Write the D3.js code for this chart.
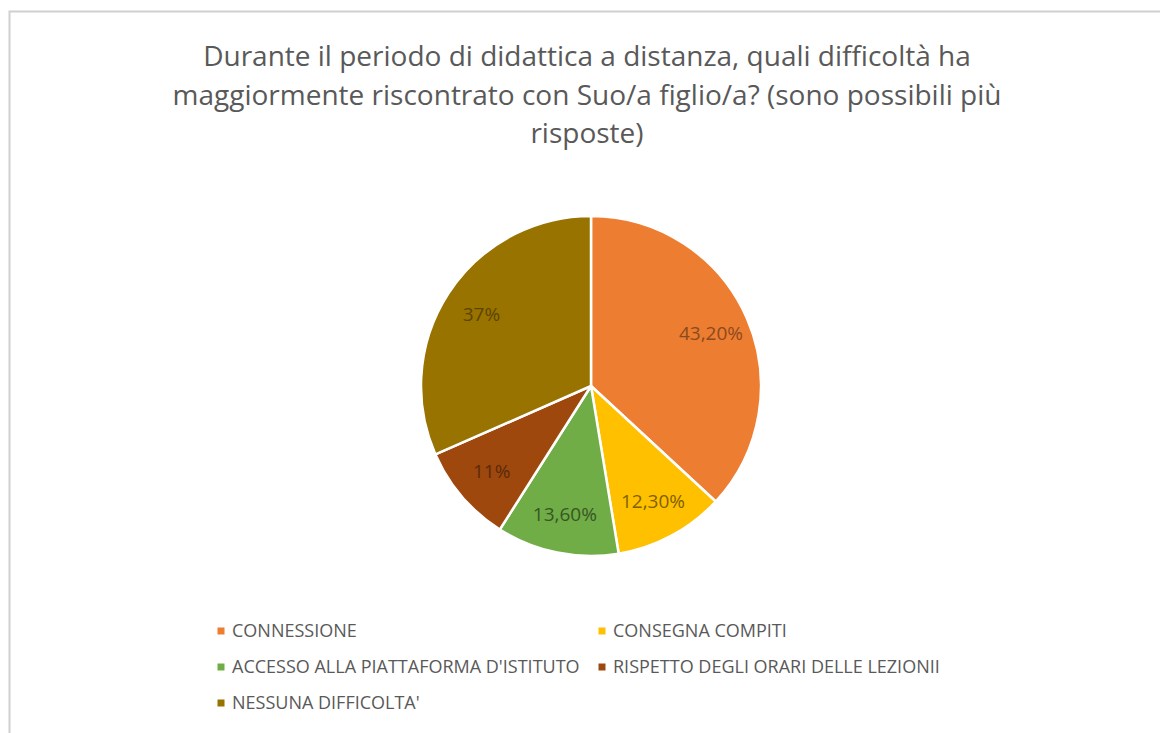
<!DOCTYPE html>
<html>
<head>
<meta charset="utf-8">
<script src="https://cdn.jsdelivr.net/npm/d3@7"></script>
<style>
  html, body { margin: 0; padding: 0; background: #ffffff; }
  svg { display: block; }
</style>
</head>
<body>
<svg id="chart" width="1160" height="733"></svg>
<script>
// dati del grafico
var categorie = ["CONNESSIONE", "CONSEGNA COMPITI", "ACCESSO ALLA PIATTAFORMA D'ISTITUTO",
                 "RISPETTO DEGLI ORARI DELLE LEZIONII", "NESSUNA DIFFICOLTA'"];
var valori = [43.2, 12.3, 13.6, 11, 37];
var etichette = ["43,20%", "12,30%", "13,60%", "11%", "37%"];
var colori = ["#ED7D31", "#FFC000", "#70AD47", "#9E480E", "#997300"];
var coloriTesto = ["#8B4A1E", "#7F6000", "#375623", "#5A2A0A", "#5C4500"];
var titolo = ["Durante il periodo di didattica a distanza, quali difficoltà ha",
              "maggiormente riscontrato con Suo/a figlio/a? (sono possibili più",
              "risposte)"];

var FONT = "'Open Sans', sans-serif";
var svgObj = d3.select("#chart");

// bordo area grafico
svgObj.append("rect")
  .attr("x", 9.5).attr("y", 11.5)
  .attr("width", 1200).attr("height", 800)
  .attr("fill", "#ffffff")
  .attr("stroke", "#d0d0d0").attr("stroke-width", 2);

// titolo
svgObj.append("g").selectAll("text")
  .data(titolo)
  .enter()
  .append("text")
  .attr("x", 587)
  .attr("y", function(d, i){ return 66 + i * 38.5; })
  .attr("text-anchor", "middle")
  .attr("font-family", FONT)
  .attr("font-size", 28)
  .attr("fill", "#595959")
  .text(function(d){ return d; });

// torta
var cx = 591, cy = 386, R = 170;
var pie = d3.pie().sort(null).value(function(d){ return d; });
var arcs = pie(valori);
var arc = d3.arc().innerRadius(0).outerRadius(R);
var arcLabel = d3.arc().innerRadius(R * 0.77).outerRadius(R * 0.77);

var g = svgObj.append("g").attr("transform", "translate(" + cx + "," + cy + ")");
g.selectAll("path")
  .data(arcs)
  .enter()
  .append("path")
  .attr("d", arc)
  .attr("fill", function(d, i){ return colori[i]; })
  .attr("stroke", "#ffffff")
  .attr("stroke-width", 2.5)
  .attr("stroke-linejoin", "round");

g.selectAll("text")
  .data(arcs)
  .enter()
  .append("text")
  .attr("transform", function(d){ return "translate(" + arcLabel.centroid(d) + ")"; })
  .attr("dy", "0.35em")
  .attr("text-anchor", "middle")
  .attr("font-family", FONT)
  .attr("font-size", 19)
  .attr("fill", function(d, i){ return coloriTesto[i]; })
  .text(function(d, i){ return etichette[i]; });

// legenda: due colonne, tre righe
var colX = [221, 602], rigaY = [631, 667, 703];
var leg = svgObj.append("g").selectAll("g")
  .data(categorie)
  .enter()
  .append("g")
  .attr("transform", function(d, i){ return "translate(" + colX[i % 2] + "," + rigaY[Math.floor(i / 2)] + ")"; });

leg.append("rect")
  .attr("x", -3.5).attr("y", -3.5)
  .attr("width", 7).attr("height", 7)
  .attr("fill", function(d, i){ return colori[i]; });

leg.append("text")
  .attr("x", 11)
  .attr("y", 0)
  .attr("dy", "0.35em")
  .attr("font-family", FONT)
  .attr("font-size", 18)
  .attr("fill", "#595959")
  .text(function(d){ return d; });
</script>
</body>
</html>
